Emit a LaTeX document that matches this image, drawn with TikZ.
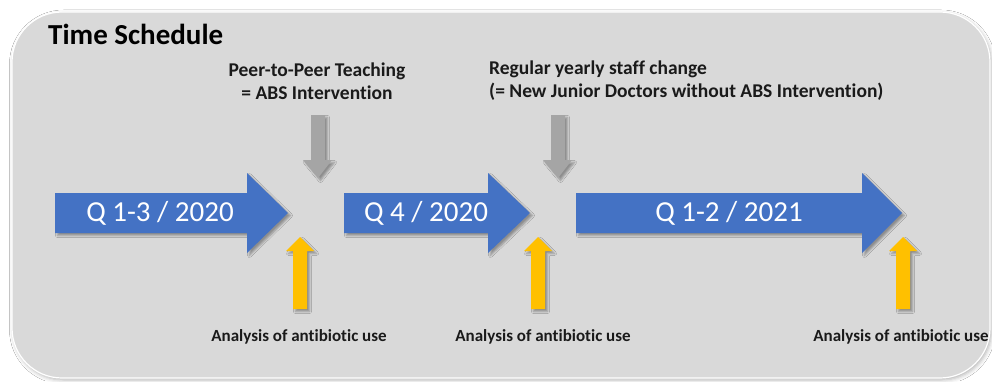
\documentclass[tikz,border=0pt]{standalone}
\usepackage{fontspec}
\setmainfont{Carlito}[Ligatures=NoCommon]
\usetikzlibrary{shadows.blur}
\definecolor{bgbox}{HTML}{D9D9D9}
\definecolor{qblue}{HTML}{4472C4}
\definecolor{qyellow}{HTML}{FFC000}
\definecolor{qgray}{HTML}{A5A5A5}
\definecolor{txt}{HTML}{1A1A1A}
\tikzset{
  boxshadow/.style={blur shadow={shadow xshift=1.5pt, shadow yshift=-2pt, shadow blur radius=4pt, shadow opacity=30}},
  arrshadow/.style={blur shadow={shadow xshift=2.5pt, shadow yshift=-2.5pt, shadow blur radius=2pt, shadow opacity=35}},
  bluearr/.style={fill=qblue, arrshadow},
  grayarr/.style={fill=qgray, arrshadow},
  yellowarr/.style={fill=qyellow, arrshadow},
  qtext/.style={text=white, inner sep=0pt, font=\fontsize{29}{34}\selectfont},
  toplabel/.style={text=txt, inner sep=0pt, font=\bfseries\fontsize{19.5}{23}\selectfont},
  botlabel/.style={text=txt, inner sep=0pt, font=\bfseries\fontsize{17}{20}\selectfont},
  titletext/.style={text=black, inner sep=0pt, font=\bfseries\fontsize{29}{32}\selectfont}
}
\begin{document}
\begin{tikzpicture}[x=1pt,y=1pt]
\useasboundingbox (0,0) rectangle (992,381);
\fill[white] (0,0) rectangle (992,381);
% background box
\draw[draw=white, line width=1.2pt, fill=bgbox, rounded corners=50pt, boxshadow] (12,3) rectangle (990,369);
% title
\node[titletext, anchor=base west] (title) at (48,336) {Time Schedule};
% blue arrows
\path[bluearr] (55,188) -- (247,188) -- (247,208) -- (288,168) -- (247,128) -- (247,148) -- (55,148) -- cycle;
\path[bluearr] (344,188) -- (488,188) -- (488,208) -- (530,168) -- (488,128) -- (488,148) -- (344,148) -- cycle;
\path[bluearr] (576,188) -- (862,188) -- (862,208) -- (902,168) -- (862,128) -- (862,148) -- (576,148) -- cycle;
\node[qtext] (q1) at (160,168) {Q 1-3 / 2020};
\node[qtext] (q2) at (426,168) {Q 4 / 2020};
\node[qtext] (q3) at (729,168) {Q 1-2 / 2021};
% gray arrows (down)
\path[grayarr] (311,266) -- (325,266) -- (325,221) -- (332,221) -- (318,203) -- (303,221) -- (311,221) -- cycle;
\path[grayarr] (551,266) -- (565,266) -- (565,221) -- (572,221) -- (558,203) -- (543,221) -- (551,221) -- cycle;
% yellow arrows (up)
\path[yellowarr] (293,72) -- (307,72) -- (307,130) -- (314,130) -- (300,144) -- (286,130) -- (293,130) -- cycle;
\path[yellowarr] (531,72) -- (545,72) -- (545,130) -- (552,130) -- (538,144) -- (524,130) -- (531,130) -- cycle;
\path[yellowarr] (896,72) -- (910,72) -- (910,130) -- (917,130) -- (903,144) -- (889,130) -- (896,130) -- cycle;
% top labels
\node[toplabel, align=center] (peer) at (317,300) {Peer-to-Peer Teaching\\= ABS Intervention};
\node[toplabel, align=left, anchor=west] (staff) at (489,300) {Regular yearly staff change\\(= New Junior Doctors without ABS Intervention)};
% bottom labels
\node[botlabel] (a1) at (299,44) {Analysis of antibiotic use};
\node[botlabel] (a2) at (543,44) {Analysis of antibiotic use};
\node[botlabel] (a3) at (901,44) {Analysis of antibiotic use};
\end{tikzpicture}
\end{document}
